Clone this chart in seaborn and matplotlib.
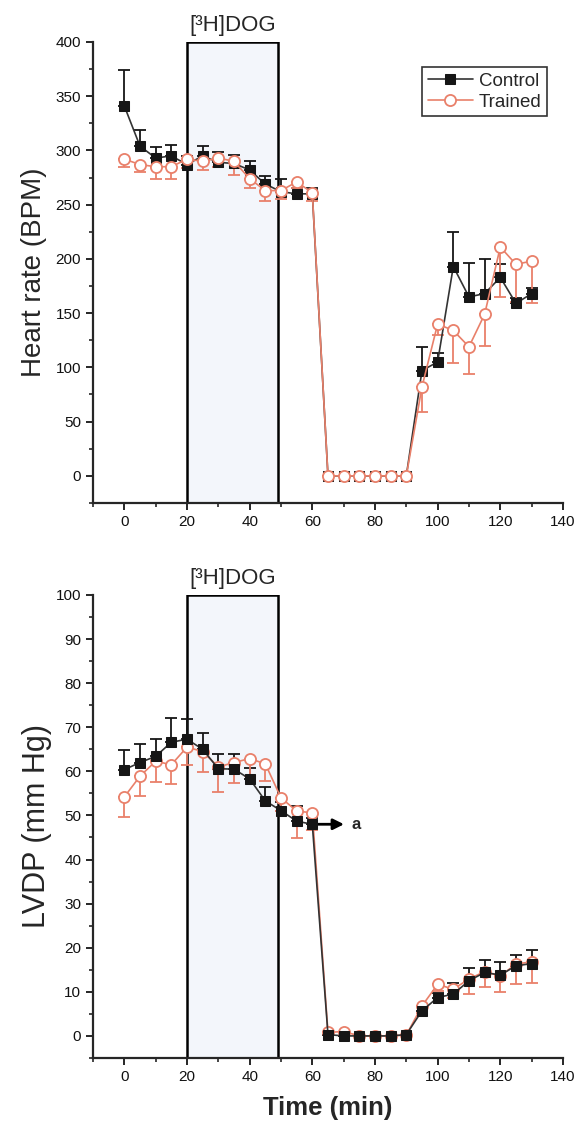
import numpy as np
import pandas as pd
import matplotlib
matplotlib.use("Agg")
import matplotlib.pyplot as plt
from matplotlib.ticker import MultipleLocator
import seaborn as sns

time = [0, 5, 10, 15, 20, 25, 30, 35, 40, 45, 50, 55, 60, 65, 70, 75, 80, 85, 90,
        95, 100, 105, 110, 115, 120, 125, 130]

hr_control = [341, 304, 293, 295, 287, 295, 289, 288, 282, 269, 262, 260, 260, 0, 0, 0, 0, 0, 0,
              97, 105, 193, 165, 168, 183, 159, 168]
hr_control_err = [33, 15, 10, 10, 8, 9, 10, 8, 8, 7, 12, 5, 5, 0, 0, 0, 0, 0, 0,
                  22, 8, 32, 31, 32, 12, 5, 5]
hr_trained = [292, 287, 285, 285, 292, 290, 293, 290, 274, 263, 263, 271, 261, 0, 0, 0, 0, 0, 0,
              82, 140, 134, 119, 149, 211, 195, 198]
hr_trained_err = [7, 7, 11, 11, 8, 8, 8, 13, 9, 10, 8, 6, 8, 0, 0, 0, 0, 0, 0,
                  23, 10, 30, 25, 29, 46, 35, 39]

lv_control = [60.4, 62.0, 63.4, 66.6, 67.3, 65.0, 60.6, 60.5, 58.3, 53.3, 51.1, 48.7, 48.0,
              0.3, 0, 0, 0, 0, 0.3, 5.7, 8.7, 9.5, 12.5, 14.4, 13.8, 15.9, 16.4]
lv_control_err = [4.4, 4.2, 4.0, 5.4, 4.5, 3.6, 3.3, 3.4, 2.5, 3.1, 2.0, 3.4, 1.5,
                  0, 0, 0, 0, 0, 0, 1.0, 1.0, 2.6, 2.8, 2.9, 3.0, 2.5, 3.1]
lv_trained = [54.2, 58.9, 62.3, 61.5, 65.5, 64.5, 61.0, 62.0, 62.9, 61.7, 54.0, 51.0, 50.6,
              0.8, 1.0, 0, 0, 0, 0.2, 6.8, 11.7, 10.6, 12.9, 14.6, 13.6, 16.3, 16.8]
lv_trained_err = [4.6, 4.4, 4.7, 4.3, 4.0, 4.7, 5.7, 4.7, 4.0, 4.0, 3.0, 6.2, 4.0,
                  0, 0, 0, 0, 0, 0, 1.5, 1.5, 2.0, 3.4, 3.6, 3.6, 4.6, 4.7]

dog_window = (20, 49)
tick_x = [0, 20, 40, 60, 80, 100, 120, 140]

sns.set_style("ticks")
plt.rcParams['font.family'] = ['Liberation Sans', 'DejaVu Sans']

CTRL = "#161616"
TRN = "#e9806a"

fig = plt.figure(figsize=(5.79, 11.32), dpi=100)
ax1 = fig.add_axes([0.1606, 0.5557, 0.8117, 0.4072])
ax2 = fig.add_axes([0.1606, 0.0654, 0.8117, 0.4090])


def draw(ax, c, ce, t, te, ylim, ymaj, ymin, ylabel, lsize, lpad, ctrl_on_top):
    ax.axvspan(dog_window[0], dog_window[1], facecolor="#f3f6fb", edgecolor="black",
               lw=1.8, zorder=0)
    df_c = pd.DataFrame({"t": time, "v": c})
    df_t = pd.DataFrame({"t": time, "v": t})
    zc, zt = (5, 4) if ctrl_on_top else (3, 4)
    ax.errorbar(time, c, yerr=[np.zeros(len(ce)), ce], fmt="none", ecolor=CTRL,
                elinewidth=1.3, capsize=4, capthick=1.3, zorder=2)
    ax.errorbar(time, t, yerr=[te, np.zeros(len(te))], fmt="none", ecolor=TRN,
                elinewidth=1.3, capsize=4, capthick=1.3, zorder=2)
    sns.lineplot(data=df_c, x="t", y="v", ax=ax, color="#333333", lw=1.2,
                 marker="s", markersize=7.5, markerfacecolor=CTRL, markeredgecolor=CTRL,
                 label="Control", zorder=zc)
    sns.lineplot(data=df_t, x="t", y="v", ax=ax, color=TRN, lw=1.2,
                 marker="o", markersize=8, markerfacecolor="white", markeredgecolor=TRN,
                 markeredgewidth=1.3, label="Trained", zorder=zt)
    ax.set_xlim(-10, 140)
    ax.set_ylim(*ylim)
    ax.xaxis.set_major_locator(MultipleLocator(20))
    ax.xaxis.set_minor_locator(MultipleLocator(10))
    ax.yaxis.set_major_locator(MultipleLocator(ymaj))
    ax.yaxis.set_minor_locator(MultipleLocator(ymin))
    ax.set_xticks(tick_x)
    ax.set_xticklabels([str(v) for v in tick_x])
    for s in ["top", "right"]:
        ax.spines[s].set_visible(False)
    for s in ["left", "bottom"]:
        ax.spines[s].set_linewidth(1.6)
    ax.tick_params(which="major", length=5, width=1.4, labelsize=11, direction="out",
                   labelcolor="#111111")
    ax.tick_params(which="minor", length=3, width=1.2, direction="out")
    ax.set_ylabel(ylabel, fontsize=lsize, labelpad=lpad)
    ax.set_xlabel("")
    ax.text(sum(dog_window) / 2, ylim[1] + (ylim[1] - ylim[0]) * 0.012, "[³H]DOG",
            ha="center", va="bottom", fontsize=16)


draw(ax1, hr_control, hr_control_err, hr_trained, hr_trained_err, (-25, 400), 50, 25,
     "Heart rate (BPM)", 20, 6, False)
draw(ax2, lv_control, lv_control_err, lv_trained, lv_trained_err, (-5, 100), 10, 5,
     "LVDP (mm Hg)", 22, 3, True)

leg = ax1.legend(loc="upper right", bbox_to_anchor=(0.966, 0.946), fontsize=13.5,
                 frameon=True, fancybox=False, handlelength=2.4, borderpad=0.3,
                 handletextpad=0.3, labelspacing=0.2, borderaxespad=0)
leg.get_frame().set_edgecolor("black")
leg.get_frame().set_linewidth(1.2)
ax2.get_legend().remove()

ax2.annotate("", xy=(71, 48), xytext=(60.5, 48),
             arrowprops=dict(arrowstyle="-|>", color="black", lw=2, mutation_scale=16))
ax2.text(72.5, 48, "a", ha="left", va="center", fontsize=12, fontweight="bold")

ax2.set_xlabel("Time (min)", fontsize=18.5, fontweight="bold", labelpad=9)

fig.savefig("out.png", dpi=100)
